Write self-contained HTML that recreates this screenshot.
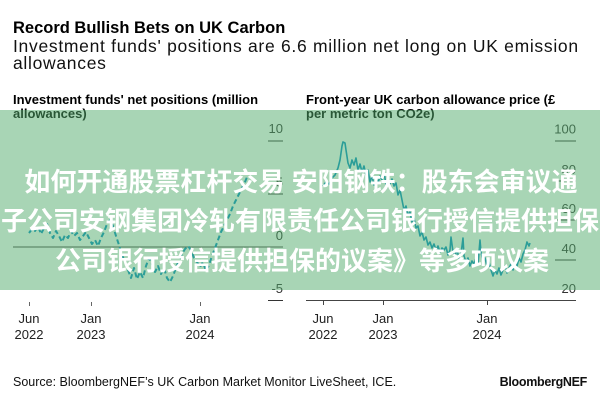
<!DOCTYPE html>
<html>
<head>
<meta charset="utf-8">
<style>
html,body{margin:0;padding:0;background:#fff;}
body{width:600px;height:400px;overflow:hidden;}
svg{display:block;}
.lat{font-family:"Liberation Sans",Arial,sans-serif;}
.cjk{font-family:"Liberation Sans","Noto Sans CJK SC","WenQuanYi Zen Hei",sans-serif;}
</style>
</head>
<body>
<svg width="600" height="400" viewBox="0 0 600 400" xmlns="http://www.w3.org/2000/svg">
  <rect x="0" y="0" width="600" height="400" fill="#fff"/>

  <!-- Headline -->
  <text class="lat" x="13" y="33" font-size="16.5" font-weight="bold" fill="#000">Record Bullish Bets on UK Carbon</text>
  <text class="lat" x="13" y="52" font-size="17.5" fill="#111" letter-spacing="0.7">Investment funds' positions are 6.6 million net long on UK emission</text>
  <text class="lat" x="13" y="69" font-size="17.5" fill="#111" letter-spacing="0.7">allowances</text>

  <!-- Chart titles -->
  <text class="lat" x="13" y="104" font-size="13" font-weight="bold" fill="#000">Investment funds' net positions (million</text>
  <text class="lat" x="13" y="118" font-size="13" font-weight="bold" fill="#000">allowances)</text>
  <text class="lat" x="306" y="104" font-size="13" font-weight="bold" fill="#000">Front-year UK carbon allowance price (£</text>
  <text class="lat" x="306" y="118" font-size="13" font-weight="bold" fill="#000">per metric ton CO2e)</text>

  <!-- Left axis -->
  <g class="lat" font-size="13" fill="#333" text-anchor="end">
    <text x="283" y="133">10</text>
    <text x="283" y="186.5">5</text>
    <text x="283" y="240">0</text>
    <text x="283" y="293">-5</text>
  </g>
  <g stroke="#333" stroke-width="1">
    <line x1="268" y1="141" x2="283" y2="141"/>
    <line x1="268" y1="194" x2="283" y2="194"/>
    <line x1="13" y1="247" x2="283" y2="247" stroke="#444"/>
    <line x1="268" y1="300.5" x2="283" y2="300.5"/>
  </g>
  <g stroke="#666" stroke-width="1">
    <line x1="29.5" y1="302" x2="29.5" y2="306"/>
    <line x1="91.5" y1="302" x2="91.5" y2="306"/>
    <line x1="200.5" y1="302" x2="200.5" y2="306"/>
  </g>
  <g class="lat" font-size="13" fill="#222" text-anchor="middle">
    <text x="29" y="323">Jun</text><text x="29" y="339">2022</text>
    <text x="91" y="323">Jan</text><text x="91" y="339">2023</text>
    <text x="200" y="323">Jan</text><text x="200" y="339">2024</text>
  </g>

  <!-- Right axis -->
  <g class="lat" font-size="13" fill="#333" text-anchor="end">
    <text x="576" y="133.5">100</text>
    <text x="576" y="174">80</text>
    <text x="576" y="213">60</text>
    <text x="576" y="253">40</text>
    <text x="576" y="293">20</text>
  </g>
  <g stroke="#333" stroke-width="1">
    <line x1="555" y1="141" x2="576" y2="141"/>
    <line x1="555" y1="181" x2="576" y2="181"/>
    <line x1="555" y1="220" x2="576" y2="220"/>
    <line x1="555" y1="260" x2="576" y2="260"/>
    <line x1="306" y1="300.5" x2="576" y2="300.5" stroke="#444"/>
  </g>
  <g stroke="#444" stroke-width="1">
    <line x1="323.5" y1="300" x2="323.5" y2="305"/>
    <line x1="383.5" y1="300" x2="383.5" y2="305"/>
    <line x1="487.5" y1="300" x2="487.5" y2="305"/>
  </g>
  <g class="lat" font-size="13" fill="#222" text-anchor="middle">
    <text x="323" y="323">Jun</text><text x="323" y="339">2022</text>
    <text x="383" y="323">Jan</text><text x="383" y="339">2023</text>
    <text x="487" y="323">Jan</text><text x="487" y="339">2024</text>
  </g>

  <!-- Footer -->
  <text class="lat" x="13" y="386" font-size="12.5" fill="#111">Source: BloombergNEF’s UK Carbon Market Monitor LiveSheet, ICE.</text>
  <text class="lat" x="587" y="386" font-size="12.5" font-weight="bold" fill="#111" text-anchor="end" letter-spacing="-0.3">BloombergNEF</text>

  <!-- Green overlay band -->
  <rect x="0" y="110" width="600" height="180" fill="rgb(82,171,108)" fill-opacity="0.5"/>

  <!-- Left series: dashed -->
  <path fill="none" stroke="#2b9d98" stroke-width="2" stroke-dasharray="5 3" stroke-linejoin="round"
    d="M29,233 L32,229 L35,231 L38,226 L41,234 L44,228 L47,224 L50,233 L53,238 L56,231 L59,236 L62,242 L65,235 L68,238 L71,231 L74,236 L77,233 L80,240 L83,236 L86,232 L89,238 L92,244 L95,240 L98,246 L101,238 L104,232 L107,224 L110,220 L113,226 L116,236 L119,245 L122,255 L125,262 L128,270 L131,278 L134,268 L137,279 L140,272 L143,278 L146,266 L149,258 L152,264 L155,272 L158,266 L161,274 L164,268 L167,278 L170,282 L173,276 L176,268 L179,260 L182,254 L185,249 L188,246 L191,250 L194,258 L197,262 L200,267 L203,262 L206,271 L209,265 L212,256 L215,248 L218,240 L221,232 L224,226 L227,220 L230,214 L233,206 L236,200 L239,194 L242,188 L245,182 L247,177"/>

  <!-- Right series: solid -->
  <path fill="none" stroke="#2b9d98" stroke-width="1.6" stroke-linejoin="round"
    d="M323,186 L326,182 L329,184 L332,178 L335,175 L338,168 L340,160 L342,146 L343,142 L345,143 L346,150 L348,163 L350,168 L352,160 L354,165 L356,158 L358,170 L360,164 L362,172 L364,166 L366,175 L368,170 L370,182 L372,176 L374,185 L376,178 L378,183 L380,176 L382,180 L384,172 L386,185 L388,178 L390,184 L392,179 L394,186 L396,183 L398,195 L400,190 L402,200 L404,210 L406,206 L408,215 L410,212 L412,222 L414,218 L416,228 L418,226 L420,236 L422,232 L424,240 L426,237 L428,245 L430,242 L432,248 L434,244 L436,250 L438,246 L440,252 L442,248 L444,250 L446,247 L448,255 L450,250 L451,237 L453,252 L455,256 L457,250 L459,258 L461,254 L463,238 L464,256 L466,262 L468,258 L470,266 L472,261 L474,264 L476,258 L478,264 L480,240 L481,252 L483,262 L485,258 L487,266 L489,262 L491,270 L493,276 L495,270 L497,274 L499,268 L501,275 L503,270 L505,266 L507,273 L509,268 L511,264 L513,270 L515,262 L517,266 L519,258 L521,262 L523,254 L525,250 L527,242 L529,246 L530,243"/>

  <!-- Chinese overlay text -->
  <g class="cjk" font-size="26" font-weight="bold" fill="#fff" text-anchor="middle">
    <text x="301" y="191">如何开通股票杠杆交易 安阳钢铁：股东会审议通</text>
    <text x="300" y="230">子公司安钢集团冷轧有限责任公司银行授信提供担保</text>
    <text x="302" y="270">公司银行授信提供担保的议案》等多项议案</text>
  </g>
</svg>
</body>
</html>
